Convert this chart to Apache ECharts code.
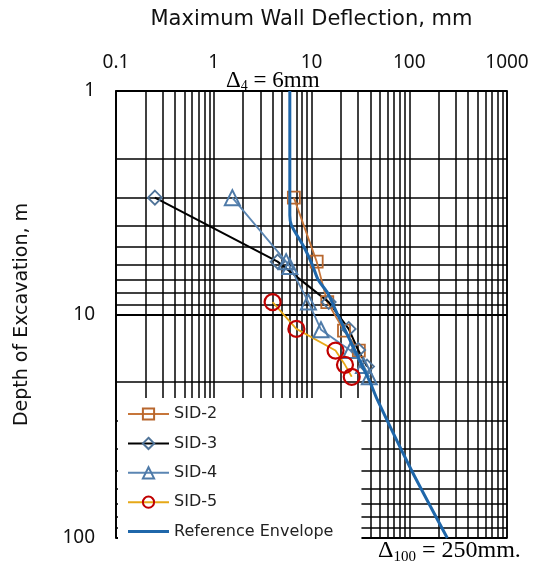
<!DOCTYPE html>
<html>
<head>
<meta charset="utf-8">
<script src="https://cdn.jsdelivr.net/npm/echarts@6/dist/echarts.min.js"></script>
<style>html,body{margin:0;padding:0;background:#fff}#c{width:533px;height:573px}</style>
</head>
<body>
<div id="c"></div>
<script>
// ---- data (deflection mm, depth m) ----
const sid2 = [[6.6, 3.0], [11.3, 5.8], [14.5, 8.8], [21.5, 11.8], [30.5, 14.5]];
const sid3 = [[0.25, 3.0], [4.5, 5.8], [15.0, 8.8], [24.0, 11.6], [30.0, 14.4], [37.0, 17.1]];
const sid4 = [[1.55, 3.0], [5.5, 5.8], [6.0, 6.1], [9.3, 8.8], [12.5, 11.7], [25.0, 14.5], [34.0, 16.9], [39.0, 19.0]];
const sid5 = [[4.0, 8.8], [7.0, 11.6], [17.6, 14.5], [22.0, 16.8], [25.8, 19.0]];
const envelope = [[6.0, 1.0], [6.0, 3.6], [6.25, 4.0], [8.4, 5.0], [10.2, 6.0], [11.7, 7.0], [14.6, 8.0], [18.5, 10.0], [39.6, 20.0], [47.0, 24.0], [106, 50.0], [245, 100.0]];
const xTicks = [0.1, 1, 10, 100, 1000];
const yTicks = [1, 10, 100];
const xMinorGrid = [0.2,0.3,0.4,0.5,0.6,0.7,0.8,0.9, 2,3,4,5,6,7,8,9, 20,30,40,50,60,70,80,90, 200,300,400,500,600,700,800,900];
const yMinorGrid = [2,3,4,5,6,7,8,9, 20,30,40,50,60,70,80,90];

const chart = echarts.init(document.getElementById('c'), null, {renderer: 'canvas'});
const gridLine = {color: '#000', width: 1.5, type: 'solid'};
const fmt = v => String(+Number(v).toPrecision(3));

const option = {
  animation: false,
  backgroundColor: '#fff',
  grid: {left: 116, top: 91, right: 26, bottom: 35, outerBoundsMode: 'none', containLabel: false,
         show: true, borderColor: '#000', borderWidth: 1.5, backgroundColor: '#fff'},
  xAxis: {
    type: 'log', logBase: 10, min: xTicks[0], max: xTicks[xTicks.length - 1], position: 'top',
    name: 'Maximum Wall Deflection, mm', nameLocation: 'middle', nameGap: 61,
    nameTextStyle: {fontFamily: 'DejaVu Sans', fontSize: 21, color: '#111'},
    axisLine: {show: true, lineStyle: {color: '#000', width: 1.5}},
    axisTick: {show: false},
    axisLabel: {formatter: fmt, fontFamily: 'Noto Sans', fontSize: 19, color: '#111', margin: 19},
    splitLine: {show: true, lineStyle: gridLine}
  },
  yAxis: {
    type: 'log', logBase: 10, min: yTicks[0], max: yTicks[yTicks.length - 1], inverse: true,
    name: 'Depth of Excavation, m', nameLocation: 'middle', nameGap: 84, nameRotate: 90,
    nameTextStyle: {fontFamily: 'DejaVu Sans', fontSize: 19, color: '#111'},
    axisLine: {show: true, lineStyle: {color: '#000', width: 1.5}},
    axisTick: {show: false},
    axisLabel: {formatter: fmt, fontFamily: 'Noto Sans', fontSize: 19, color: '#111', margin: 21},
    splitLine: {show: true, lineStyle: {color: '#000', width: 2}}
  },
  legend: {
    orient: 'vertical', left: 118, top: 398, z: 50, zlevel: 0,
    padding: [8, 28, 6, 9], itemWidth: 41, itemHeight: 14, itemGap: 13.4,
    backgroundColor: '#fff',
    textStyle: {fontFamily: 'DejaVu Sans', fontSize: 16, color: '#222'},
    data: ['SID-2', 'SID-3', 'SID-4', 'SID-5',
           {name: 'Reference Envelope', icon: 'path://M0,0L41,0L41,3L0,3Z', itemStyle: {color: '#1F67AA'}}]
  },
  graphic: [
    {type: 'text', left: 226, top: 69, z: 60, style: {
      text: '{a|Δ}{s|4}{a| = 6mm}',
      rich: {
        a: {fontFamily: 'Liberation Serif', fontSize: 23, fill: '#000', verticalAlign: 'middle'},
        s: {fontFamily: 'Liberation Serif', fontSize: 14, fill: '#000', verticalAlign: 'middle', padding: [12, 0, 0, 0]}
      }}},
    {type: 'text', left: 378, top: 539, z: 60, style: {
      text: '{a|Δ}{s|100}{a| = 250mm.}',
      rich: {
        a: {fontFamily: 'Liberation Serif', fontSize: 24, fill: '#000', verticalAlign: 'middle'},
        s: {fontFamily: 'Liberation Serif', fontSize: 15, fill: '#000', verticalAlign: 'middle', padding: [13, 0, 0, 0]}
      }}}
  ],
  series: [
    {
      name: 'grid', type: 'line', z: 1, data: [], silent: true, showSymbol: false,
      markLine: {
        silent: true, symbol: 'none', label: {show: false}, animation: false, z: 1,
        lineStyle: gridLine,
        data: xMinorGrid.map(v => ({xAxis: v})).concat(yMinorGrid.map(v => ({yAxis: v})))
      }
    },
    {
      name: 'SID-2', type: 'line', z: 3, data: sid2, symbol: 'rect', symbolSize: 12,
      lineStyle: {color: '#C7763A', width: 1.8},
      itemStyle: {color: 'rgba(255,255,255,0)', borderColor: '#B8672E', borderWidth: 1.8}
    },
    {
      name: 'SID-3', type: 'line', z: 3, data: sid3, symbol: 'diamond', symbolSize: 14,
      lineStyle: {color: '#000', width: 2},
      itemStyle: {color: 'rgba(255,255,255,0)', borderColor: '#4F7398', borderWidth: 1.8}
    },
    {
      name: 'SID-4', type: 'line', z: 3, data: sid4, symbol: 'triangle', symbolSize: 15,
      lineStyle: {color: '#5B86B3', width: 1.8},
      itemStyle: {color: 'rgba(255,255,255,0)', borderColor: '#4E7AA8', borderWidth: 2}
    },
    {
      name: 'SID-5', type: 'line', z: 3, data: sid5, symbol: 'circle', symbolSize: 16,
      lineStyle: {color: '#E6A817', width: 1.8},
      itemStyle: {color: 'rgba(255,255,255,0)', borderColor: '#C00000', borderWidth: 2.2}
    },
    {
      name: 'Reference Envelope', type: 'line', z: 4, data: envelope, symbol: 'none', smooth: 0.2,
      lineStyle: {color: '#1F67AA', width: 3},
      itemStyle: {color: '#1F67AA'}
    }
  ]
};
chart.setOption(option);
</script>
</body>
</html>
